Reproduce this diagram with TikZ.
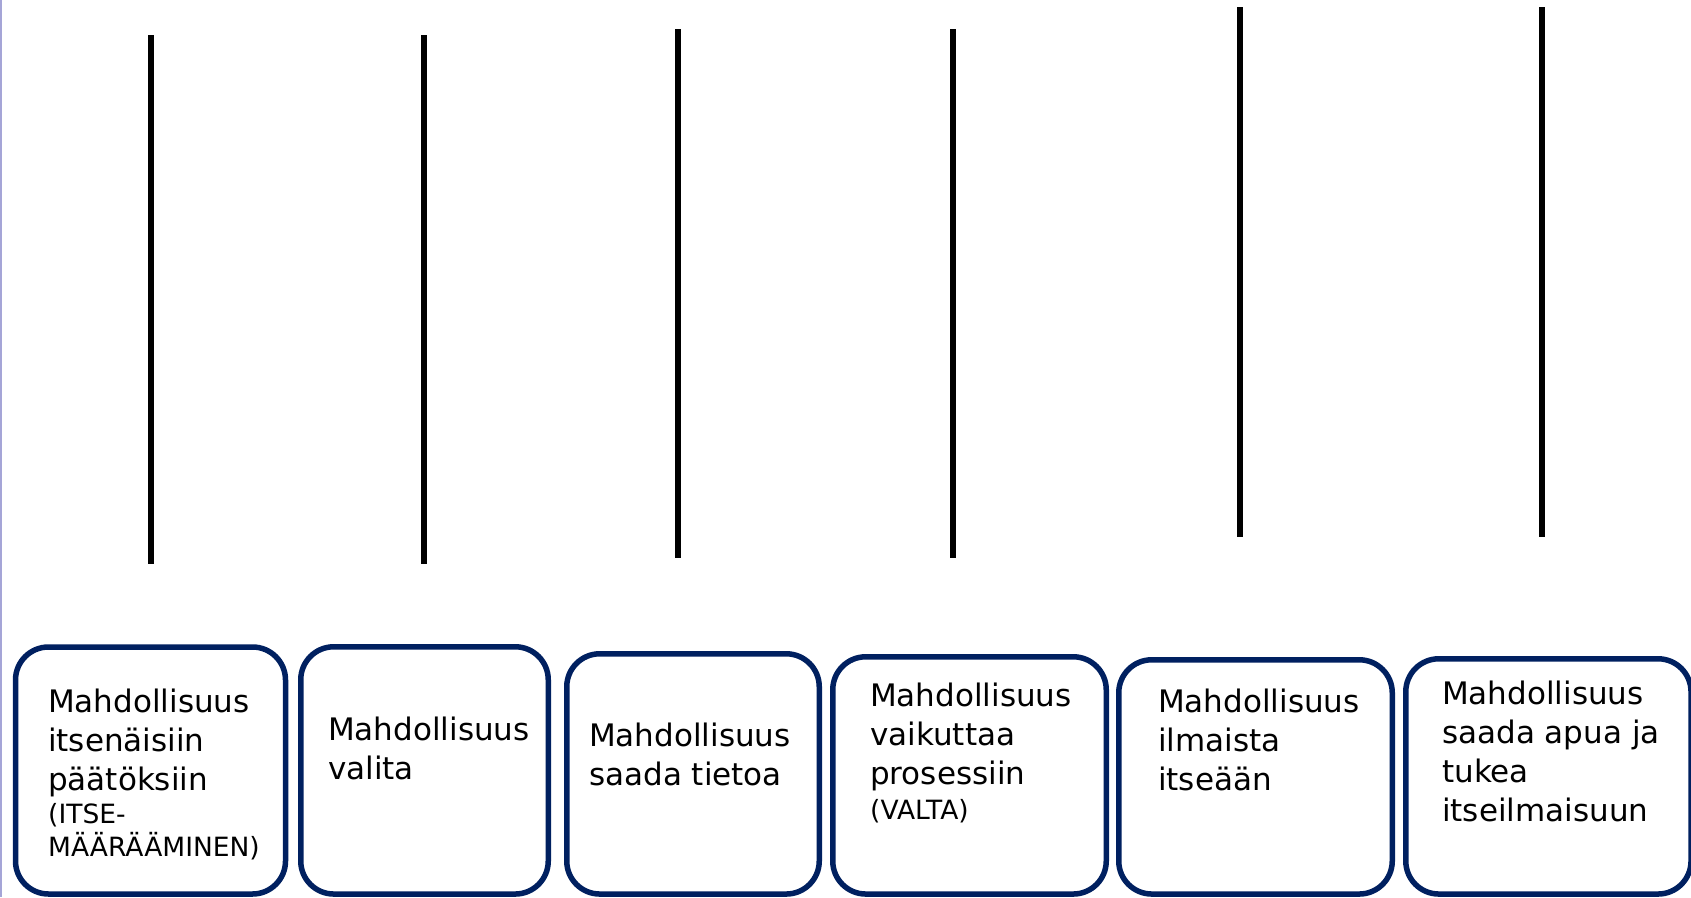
\documentclass[tikz,border=0pt]{standalone}
\usepackage{fontspec}
\setmainfont{DejaVu Sans}
\definecolor{navy}{RGB}{0,32,96}
\definecolor{edgepurple}{RGB}{165,165,215}
\begin{document}
\begin{tikzpicture}[x=1pt,y=-1pt,
  box/.style={draw=navy,line width=5.5pt,rounded corners=33pt,inner sep=0pt},
  bar/.style={line width=5.5pt},
  txt/.style={anchor=base west,align=left,inner sep=0pt,font=\fontsize{31}{38.7}\selectfont},
  smalltxt/.style={anchor=base west,align=left,inner sep=0pt,font=\fontsize{26.5}{33}\selectfont}]
\useasboundingbox (0,0) rectangle (1691,897);
\fill[white] (0,0) rectangle (1691,897);
\draw[edgepurple,line width=1.5pt] (0.75,0) -- (0.75,897);

% vertical bars
\coordinate (a1) at (151,35);   \coordinate (z1) at (151,564);
\coordinate (a2) at (424,35);   \coordinate (z2) at (424,564);
\coordinate (a3) at (678,29);   \coordinate (z3) at (678,558);
\coordinate (a4) at (953,29);   \coordinate (z4) at (953,558);
\coordinate (a5) at (1240,7);   \coordinate (z5) at (1240,537);
\coordinate (a6) at (1542,7);   \coordinate (z6) at (1542,537);
\foreach \i in {1,...,6} \draw[bar] (a\i) -- (z\i);

% boxes
\node[box,minimum width=270pt,minimum height=247pt] (b1) at (150.5,770.5) {};
\node[box,minimum width=247.5pt,minimum height=247.25pt] (b2) at (424.5,770.4) {};
\node[box,minimum width=252.5pt,minimum height=240.25pt] (b3) at (693,773.9) {};
\node[box,minimum width=273.5pt,minimum height=237.25pt] (b4) at (969.5,775.4) {};
\node[box,minimum width=273.5pt,minimum height=234.25pt] (b5) at (1255.5,776.9) {};
\node[box,minimum width=285.25pt,minimum height=235.25pt] (b6) at (1548.4,776.4) {};

% texts (base anchor = baseline of the last line)
\node[txt] (t1) at (48,790) {Mahdollisuus\\itsenäisiin\\päätöksiin};
\node[smalltxt] (s1) at (48,856) {(ITSE-\\MÄÄRÄÄMINEN)};
\node[txt] (t2) at (328,779) {Mahdollisuus\\valita};
\node[txt] (t3) at (589,785) {Mahdollisuus\\saada tietoa};
\node[txt] (t4) at (870,784) {Mahdollisuus\\vaikuttaa\\prosessiin};
\node[smalltxt] (s4) at (870,819) {(VALTA)};
\node[txt] (t5) at (1158,790) {Mahdollisuus\\ilmaista\\itseään};
\node[txt] (t6) at (1442,821) {Mahdollisuus\\saada apua ja\\tukea\\itseilmaisuun};
\end{tikzpicture}
\end{document}
